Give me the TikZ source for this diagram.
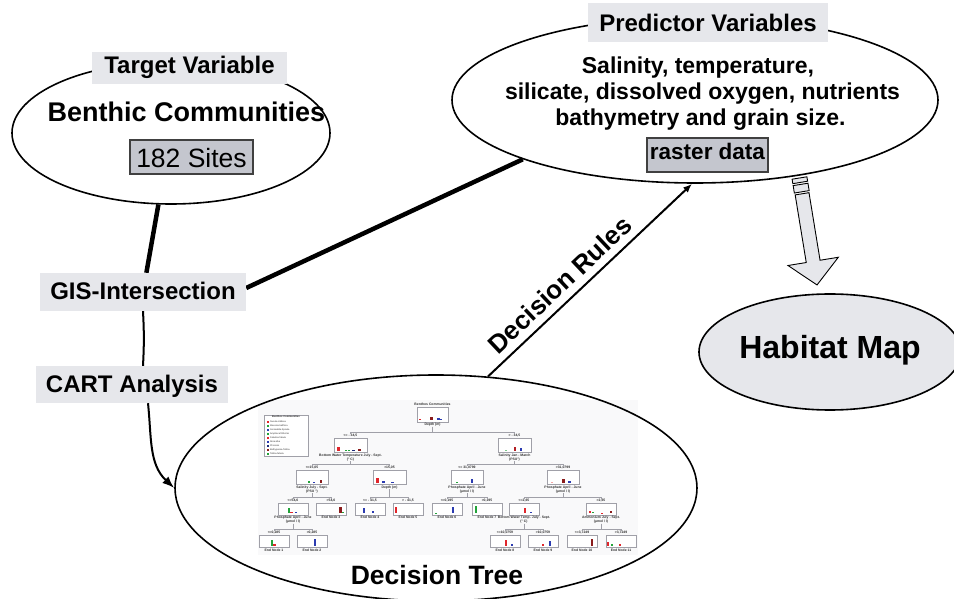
\documentclass[tikz,border=0pt]{standalone}
\usepackage{fontspec}
\setmainfont{Liberation Sans}
\usetikzlibrary{shapes.geometric,arrows.meta,calc,backgrounds}

\definecolor{labelgray}{HTML}{E6E7EB}
\definecolor{sitegray}{HTML}{C4C6CE}
\definecolor{cRed}{HTML}{E0262C}
\definecolor{cGreen}{HTML}{22A33A}
\definecolor{cBlue}{HTML}{2B3BB0}
\definecolor{cMaroon}{HTML}{8A1C1C}
\definecolor{cNavy}{HTML}{1C2A7A}
\definecolor{cPink}{HTML}{F2A6A6}
\definecolor{treeline}{HTML}{A0A0A8}
\definecolor{treetext}{HTML}{303030}
\definecolor{treeback}{HTML}{F9F9FA}

\tikzset{
  bubble/.style={ellipse, draw, line width=1.6pt, inner sep=0pt},
  tag/.style={fill=labelgray, inner sep=0pt, anchor=base, font=\fontsize{24}{26}\selectfont\bfseries},
  ptext/.style={anchor=base, inner sep=0pt, font=\fontsize{23}{25}\selectfont\bfseries},
  greybox/.style={anchor=base, inner sep=0pt, fill=sitegray, draw=black!75, line width=1.2pt},
  thickcon/.style={line width=4.5pt},
  thincon/.style={line width=2pt},
  harrow/.style={fill=labelgray, draw, line width=0.9pt, line join=miter},
  tbox/.style={draw=treeline, fill=white, line width=0.7pt, inner sep=0pt},
  tcap/.style={font=\fontsize{3.4}{3.9}\selectfont\bfseries, text=treetext, inner sep=0pt, align=center, anchor=north},
  tsplit/.style={font=\fontsize{3.4}{3.9}\selectfont\bfseries, text=treetext, inner sep=0pt},
  legtext/.style={font=\fontsize{2.3}{2.6}\selectfont, text=treetext, inner sep=0pt, anchor=west},
  tlink/.style={draw=treeline, line width=0.7pt},
}

% a tree box with its caption underneath
\newcommand\tnode[6]{%
  \node[tbox, minimum width=#4pt, minimum height=#5pt] (#1) at (#2,#3) {};
  \node[tcap] (#1c) at ([yshift=-0.8pt]#1.south) {#6};}
% split value printed above a tree box
\newcommand\tlab[3]{\node[tsplit, anchor=south] (#1) at ([yshift=0.8pt]#2.north) {#3};}
% elbow links from a parent caption to the two split labels
\newcommand\tjoin[3]{%
  \draw[tlink] (#1.south) |- ([yshift=1.4pt]#2.north) -- (#2.north);
  \draw[tlink] (#1.south) |- ([yshift=1.4pt]#3.north) -- (#3.north);}
% small bar chart inside a tree box: offset/height/colour
\newcommand\tbars[2]{%
  \foreach \dx/\bh/\bc in {#2}{\fill[\bc] ($(#1.south)+(\dx-1.3,2)$) rectangle ++(2.6,\bh);}}

\begin{document}
\begin{tikzpicture}[x=1pt,y=1pt]
\useasboundingbox (0,0) rectangle (954,598);
\clip (0,0) rectangle (954,598);

% ---------- main ellipses ----------
\node[bubble, minimum width=318pt, minimum height=142pt] (target) at (171,465) {};
\node[bubble, minimum width=486pt, minimum height=166pt] (pred) at (695,498) {};
\node[bubble, fill=labelgray, minimum width=262pt, minimum height=116pt] (habitat) at (830,246) {};
\node[bubble, minimum width=522pt, minimum height=226pt] (tree) at (436,110) {};

% ---------- target variable ----------
\node[tag, text height=21.3pt, text depth=10.7pt, minimum width=195pt] (targetlbl) at (189.5,524.7) {Target Variable};
\node[anchor=base, inner sep=0pt, font=\fontsize{27}{29}\selectfont\bfseries] (benthic) at (186.5,476.3) {Benthic Communities};
\node[greybox, text height=27.3pt, text depth=6.7pt, minimum width=123pt, font=\fontsize{26.5}{28}\selectfont] (sites) at (191.5,430.7) {182 Sites};

% ---------- predictor variables ----------
\node[tag, text height=28.7pt, text depth=10.3pt, minimum width=240pt] (predlbl) at (708,566.3) {Predictor Variables};
\node[ptext] (pline1) at (698,524.7) {Salinity, temperature,};
\node[ptext] (pline2) at (702.5,498) {silicate, dissolved oxygen, nutrients};
\node[ptext] (pline3) at (700.5,472.3) {bathymetry and grain size.};
\node[greybox, text height=22pt, text depth=12pt, minimum width=121pt, font=\fontsize{22.5}{24}\selectfont\bfseries] (raster) at (707.5,438) {raster data};

% ---------- process steps ----------
\node[tag, text height=27pt, text depth=11pt, minimum width=206pt] (gis) at (143,298) {GIS-Intersection};
\node[tag, text height=26.3pt, text depth=10.7pt, minimum width=192pt] (cart) at (132,205.7) {CART Analysis};

\node[anchor=base, inner sep=0pt, font=\fontsize{32}{34}\selectfont\bfseries] (habtxt) at (830,239.7) {Habitat Map};
\node[anchor=base, inner sep=0pt, font=\fontsize{26.5}{28}\selectfont\bfseries] (treetxt) at (437,14) {Decision Tree};

% ---------- connectors ----------
\begin{pgfonlayer}{background}
  \draw[thickcon] (target) -- (gis);
  \draw[thickcon] ([yshift=4pt]gis.east) -- (pred.199);
  \draw[thincon] (gis.south) to[bend left=3] (gis.south |- cart.north);
  % faint panel behind the classification tree
  \fill[treeback] (258,43) rectangle (638,198);
\end{pgfonlayer}
\draw[thincon, -{Latex[length=12pt,width=9pt]}] ([xshift=16pt]cart.south) to[out=-84, in=137] (tree.west);
\draw[thincon, -{Latex[length=9pt,width=7pt]}] (tree.65) --
  node[sloped, above=7pt, pos=0.41, inner sep=0pt, font=\fontsize{26}{28}\selectfont\bfseries] (rules) {Decision Rules}
  (pred.268);

% ---------- broad arrow down to the habitat map ----------
\coordinate (hstart) at (799.5,420);
\begin{scope}[shift={(hstart)}, rotate=-80.7]
  \path[harrow] (0,-7.5) rectangle (4.5,7.5);
  \path[harrow] (6.5,-7.5) rectangle (14,7.5);
  \path[harrow] (16,-7) -- (84.5,-7) -- (84.5,-25.5) -- (108.4,0) -- (84.5,25.5) -- (84.5,7) -- (16,7) -- cycle;
\end{scope}

% ---------- classification tree ----------
% legend
\node[tbox, minimum width=44pt, minimum height=41pt] (legend) at (286,162.5) {};
\node[tsplit, font=\fontsize{2.6}{3}\selectfont\bfseries, anchor=north] (legendT) at ([yshift=-1.2pt]legend.north) {Benthos Communities};
\foreach \i/\bc/\nm in {0/cRed/Nucula nitidosa, 1/cGreen/Macoma balthica, 2/cBlue/Goniadella-Spisula,
    3/cGreen/Amphiura filiformis, 4/cRed/Fabulina fabula, 5/cBlue/Abra alba,
    6/cNavy/Phoronis, 7/cMaroon/Bathyporeia-Tellina, 8/cGreen/Tellina fabula}{
  \fill[\bc] (266.5,175-4*\i) rectangle ++(2,2);
  \node[legtext] (leg\i) at (270,176-4*\i) {\nm};
}

% nodes
\tnode{root}{432.5}{183.5}{31}{15}{Depth (m)}
\node[tcap, anchor=south] (rootT) at ([yshift=0.8pt]root.north) {Benthos Communities};
\tnode{L}{350.5}{152.5}{33}{14}{Bottom Water Temperature July - Sept.\\(° C)}
\tnode{R}{514.5}{152.5}{33}{14}{Salinity Jan - March\\(PSU°)}
\tnode{LL}{312}{120.5}{32}{14}{Salinity July - Sept.\\(PSU °)}
\tnode{LR}{389.5}{120.5}{33}{14}{Depth (m)}
\tnode{RL}{467}{120.5}{32}{14}{Phosphate April - June\\(µmol / l)}
\tnode{RR}{563}{120.5}{32}{14}{Phosphate April - June\\(µmol / l)}
\tnode{LLL}{293}{89}{30}{12}{Phosphate April - June\\(µmol / l)}
\tnode{E3}{331}{89}{30}{12}{End Node 3}
\tnode{E4}{370}{89}{30}{12}{End Node 4}
\tnode{E5}{408}{89}{30}{12}{End Node 5}
\tnode{E6}{447}{89}{30}{12}{End Node 6}
\tnode{E7}{487}{89}{30}{12}{End Node 7}
\tnode{RRL}{524}{89}{30}{12}{Bottom Water Temp. July - Sept.\\(° C)}
\tnode{RRR}{601}{89}{30}{12}{Ammonium July - Sept.\\(µmol / l)}
\tnode{E1}{274}{56.5}{30}{12}{End Node 1}
\tnode{E2}{312}{56.5}{30}{12}{End Node 2}
\tnode{E8}{505}{56.5}{30}{12}{End Node 8}
\tnode{E9}{543}{56.5}{30}{12}{End Node 9}
\tnode{E10}{582}{56.5}{30}{12}{End Node 10}
\tnode{E11}{621}{56.5}{30}{12}{End Node 11}

% split values
\tlab{sL}{L}{<= - 34,5}      \tlab{sR}{R}{> - 34,5}
\tlab{sLL}{LL}{<=15,05}      \tlab{sLR}{LR}{>15,05}
\tlab{sRL}{RL}{<= 31,0799}   \tlab{sRR}{RR}{>31,0799}
\tlab{sLLL}{LLL}{<=54,6}     \tlab{sE3}{E3}{>54,6}
\tlab{sE4}{E4}{<= - 41,5}    \tlab{sE5}{E5}{> - 41,5}
\tlab{sE6}{E6}{<=0,195}      \tlab{sE7}{E7}{>0,195}
\tlab{sRRL}{RRL}{<=2,65}     \tlab{sRRR}{RRR}{>2,65}
\tlab{sE1}{E1}{<=0,285}      \tlab{sE2}{E2}{>0,285}
\tlab{sE8}{E8}{<=10,0759}    \tlab{sE9}{E9}{>10,0759}
\tlab{sE10}{E10}{<=3,7249}   \tlab{sE11}{E11}{>3,7249}

% links
\tjoin{rootc}{sL}{sR}
\tjoin{Lc}{sLL}{sLR}
\tjoin{Rc}{sRL}{sRR}
\tjoin{LLc}{sLLL}{sE3}
\tjoin{LRc}{sE4}{sE5}
\tjoin{RLc}{sE6}{sE7}
\tjoin{RRc}{sRRL}{sRRR}
\tjoin{LLLc}{sE1}{sE2}
\tjoin{RRLc}{sE8}{sE9}
\tjoin{RRRc}{sE10}{sE11}

% bar charts
\tbars{root}{-12.5/1.5/cRed, -1/3/cMaroon, 6/2.5/cBlue, 8.5/1/cBlue}
\tbars{L}{-12/4/cRed, -4.5/1/cGreen, -1.5/1/cGreen, 3/0.6/cNavy, 9/2/cMaroon}
\tbars{R}{-8.5/1/cGreen!60, 0.5/4/cRed!80!black, 6.5/3/cBlue}
\tbars{LL}{-3/1.5/cGreen, 2/1/cBlue, 9/3/cMaroon}
\tbars{LR}{-12/5/cRed, -6/1.5/cBlue, 3/0.8/cBlue}
\tbars{RL}{-10/1.3/cGreen, 5/4/cBlue}
\tbars{RR}{-11/1/cPink, 0.5/4/cMaroon, 6.5/1.5/cBlue}
\tbars{LLL}{-4/5/cGreen, -1.5/1.5/cRed, 3/1.5/cBlue}
\tbars{E3}{9.5/6/cMaroon, 12/1/cGreen}
\tbars{E4}{-6/5/cBlue, 3/2/cBlue}
\tbars{E5}{-12/6/cRed}
\tbars{E6}{-11/0.5/cGreen, 6/6/cBlue}
\tbars{E7}{-11/7/cGreen}
\tbars{RRL}{1/5/cRed, 7/1.5/cBlue}
\tbars{RRR}{-11/2/cRed, -8/1/cGreen, 1/0.7/cRed, 10/2/cMaroon}
\tbars{E1}{-2/6/cGreen, 0.5/1.5/cRed}
\tbars{E2}{3/7/cBlue}
\tbars{E8}{1/6/cRed, 7/1.5/cBlue}
\tbars{E9}{0/2/cRed, 7/5/cBlue}
\tbars{E10}{10/7/cMaroon}
\tbars{E11}{-13/4/cRed, -9/1.5/cGreen, -1/1.5/cRed}

\end{tikzpicture}
\end{document}
